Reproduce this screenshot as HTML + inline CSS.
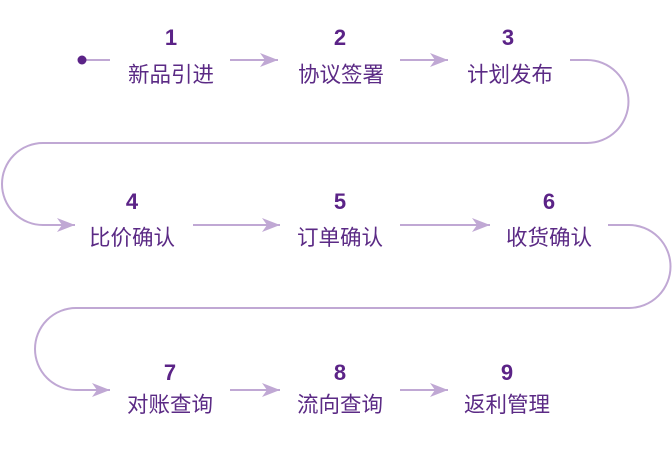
<!DOCTYPE html>
<html><head><meta charset="utf-8"><style>
body{margin:0;background:#fff;width:672px;height:451px;overflow:hidden}
svg{display:block}
.n{font-family:"Liberation Sans",sans-serif;font-weight:bold;font-size:22px;fill:#5b2387;text-anchor:middle}
.t{font-family:"Liberation Sans","Noto Sans CJK SC",sans-serif;font-size:21.5px;fill:#5b2a85;text-anchor:middle}
</style></head><body>
<svg width="672" height="451" viewBox="0 0 672 451">
<defs>
<marker id="b" viewBox="0 0 18 14" markerWidth="18" markerHeight="14" refX="18" refY="7" orient="auto" markerUnits="userSpaceOnUse"><path d="M0,0 L18,7 L0,14 L5,7 Z" fill="#c0a8d4"/></marker></defs>
<g stroke="#c0a8d4" stroke-width="2" fill="none">
<line x1="82" y1="60" x2="110" y2="60"/>
<line x1="230" y1="60" x2="278" y2="60" marker-end="url(#b)"/>
<line x1="400" y1="60" x2="448" y2="60" marker-end="url(#b)"/>
<path d="M570,60 H587 A41.5,41.5 0 0 1 587,143 H43 A41,41 0 0 0 43,225 H75" marker-end="url(#b)"/>
<line x1="193" y1="225" x2="280" y2="225" marker-end="url(#b)"/>
<line x1="400" y1="225" x2="490" y2="225" marker-end="url(#b)"/>
<path d="M608,225 H629 A41.5,41.5 0 0 1 629,308 H76 A41,41 0 0 0 76,390 H110" marker-end="url(#b)"/>
<line x1="230" y1="390" x2="280" y2="390" marker-end="url(#b)"/>
<line x1="400" y1="390" x2="448" y2="390" marker-end="url(#b)"/>
</g>
<circle cx="82" cy="60" r="4.5" fill="#5b2387"/>
<text class="n" x="171" y="45">1</text><text class="t" x="171" y="82">新品引进</text>
<text class="n" x="340" y="45">2</text><text class="t" x="341" y="82">协议签署</text>
<text class="n" x="508" y="45">3</text><text class="t" x="510" y="82">计划发布</text>
<text class="n" x="132" y="209">4</text><text class="t" x="132" y="245">比价确认</text>
<text class="n" x="340" y="209">5</text><text class="t" x="340" y="245">订单确认</text>
<text class="n" x="549" y="209">6</text><text class="t" x="549" y="245">收货确认</text>
<text class="n" x="170" y="380">7</text><text class="t" x="170" y="412">对账查询</text>
<text class="n" x="340" y="380">8</text><text class="t" x="340" y="412">流向查询</text>
<text class="n" x="507" y="380">9</text><text class="t" x="507" y="412">返利管理</text>
</svg>
</body></html>
